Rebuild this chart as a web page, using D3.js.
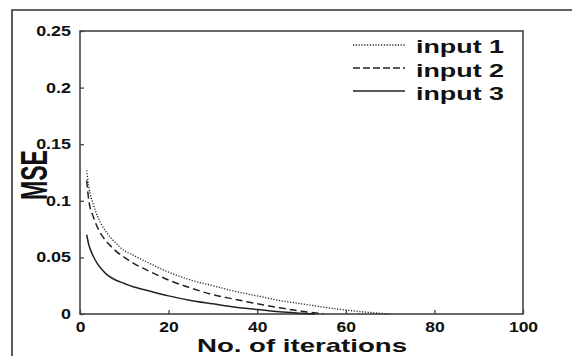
<!DOCTYPE html>
<html>
<head>
<meta charset="utf-8">
<script src="https://cdn.jsdelivr.net/npm/d3@7"></script>
<style>
  body { margin: 0; background: #fff; }
  text { font-family: "Liberation Sans", Arial, sans-serif; font-weight: bold; fill: #111; }
</style>
</head>
<body>
<div class="chart"></div>
<script>
var svgWidth = 572;
var svgHeight = 356;

var margin = {
  top: 31,
  right: 49,
  bottom: 42,
  left: 80
};

var width = svgWidth - margin.left - margin.right;
var height = svgHeight - margin.top - margin.bottom;

// values
var iterations1 = [1.5, 2, 3, 4, 5, 6, 8, 10, 12, 15, 20, 25, 30, 35, 40, 45, 50, 55, 60, 65, 70];
var input1 = [0.127, 0.112, 0.097, 0.086, 0.078, 0.072, 0.063, 0.056, 0.052, 0.046, 0.037, 0.030, 0.025, 0.020, 0.016, 0.012, 0.009, 0.006, 0.0035, 0.0015, 0];

var iterations2 = [1.5, 2, 3, 4, 5, 6, 8, 10, 12, 15, 20, 25, 30, 35, 40, 45, 50, 55];
var input2 = [0.118, 0.100, 0.086, 0.076, 0.069, 0.064, 0.056, 0.050, 0.045, 0.039, 0.030, 0.023, 0.017, 0.013, 0.009, 0.0055, 0.0025, 0];

var iterations3 = [1.5, 2, 3, 4, 5, 6, 8, 10, 12, 15, 20, 25, 30, 35, 40, 45, 50, 53];
var input3 = [0.070, 0.061, 0.051, 0.044, 0.039, 0.035, 0.030, 0.027, 0.024, 0.021, 0.016, 0.012, 0.009, 0.006, 0.004, 0.002, 0.0007, 0];

var xTicks = [0, 20, 40, 60, 80, 100];
var yTicks = [0, 0.05, 0.1, 0.15, 0.2, 0.25];
var yTickLabels = ["0", "0.05", "0.1", "0.15", "0.2", "0.25"];
var seriesNames = ["input 1", "input 2", "input 3"];
var seriesDash = ["1.2,1.6", "7,4", null];

var svg = d3.select(".chart")
  .append("svg")
  .attr("width", svgWidth)
  .attr("height", svgHeight);

// outer frame (top and left edges only)
svg.append("path")
  .attr("d", "M12," + svgHeight + "V10H" + svgWidth)
  .attr("fill", "none")
  .attr("stroke", "#333")
  .attr("stroke-width", 1.6);

var chartGroup = svg.append("g")
  .attr("transform", `translate(${margin.left}, ${margin.top})`);

var xLinearScale = d3.scaleLinear().domain([0, 100]).range([0, width]);
var yLinearScale = d3.scaleLinear().domain([0, 0.25]).range([height, 0]);

// stretch text horizontally like the original
function stretch(sel, k) {
  sel.each(function() {
    var w = this.getComputedTextLength();
    d3.select(this)
      .attr("textLength", w * k)
      .attr("lengthAdjust", "spacingAndGlyphs");
  });
}

var bottomAxis = d3.axisBottom(xLinearScale)
  .tickValues(xTicks)
  .tickSize(-4)
  .tickPadding(8)
  .tickFormat(d => d);

var leftAxis = d3.axisLeft(yLinearScale)
  .tickValues(yTicks)
  .tickSize(-4)
  .tickPadding(9)
  .tickFormat((d, i) => yTickLabels[i]);

var xAxis = chartGroup.append("g")
  .attr("transform", `translate(0, ${height})`)
  .call(bottomAxis);

var yAxis = chartGroup.append("g")
  .call(leftAxis);

[xAxis, yAxis].forEach(function(ax) {
  ax.select(".domain").remove();
  ax.selectAll(".tick line").attr("stroke", "#444").attr("stroke-width", 1.3);
  ax.selectAll(".tick text")
    .attr("font-family", "Liberation Sans, Arial, sans-serif")
    .attr("font-size", 14)
    .attr("font-weight", "bold")
    .attr("fill", "#111");
});
xAxis.selectAll(".tick text").call(stretch, 1.25);
yAxis.selectAll(".tick text").call(stretch, 1.28);

// plot box
chartGroup.append("rect")
  .attr("x", 0)
  .attr("y", 0)
  .attr("width", width)
  .attr("height", height)
  .attr("fill", "none")
  .attr("stroke", "#444")
  .attr("stroke-width", 1.6);

// curves
var lineGen = d3.line()
  .x(d => xLinearScale(d[0]))
  .y(d => yLinearScale(d[1]))
  .curve(d3.curveMonotoneX);

var seriesX = [iterations1, iterations2, iterations3];
var seriesY = [input1, input2, input3];

for (var i = 0; i < 3; i++) {
  var pts = seriesX[i].map((x, j) => [x, seriesY[i][j]]);
  chartGroup.append("path")
    .datum(pts)
    .attr("d", lineGen)
    .attr("fill", "none")
    .attr("stroke", "#222")
    .attr("stroke-width", i == 0 ? 1.3 : 1.5)
    .attr("stroke-dasharray", seriesDash[i]);
}

// legend
var legend = svg.append("g");
var legendLineY = [45, 68, 91];
var legendTextY = [53, 77, 100];
for (var i = 0; i < 3; i++) {
  legend.append("line")
    .attr("x1", 353)
    .attr("x2", 405)
    .attr("y1", legendLineY[i])
    .attr("y2", legendLineY[i])
    .attr("stroke", "#222")
    .attr("stroke-width", i == 0 ? 1.3 : 1.5)
    .attr("stroke-dasharray", i == 1 ? "7,3" : seriesDash[i]);
  legend.append("text")
    .attr("x", 416)
    .attr("y", legendTextY[i])
    .attr("font-size", 19)
    .attr("textLength", 88)
    .attr("lengthAdjust", "spacingAndGlyphs")
    .text(seriesNames[i]);
}

// axis titles
svg.append("text")
  .attr("x", 302)
  .attr("y", 352)
  .attr("text-anchor", "middle")
  .attr("font-size", 19)
  .attr("textLength", 210)
  .attr("lengthAdjust", "spacingAndGlyphs")
  .text("No. of iterations");

svg.append("text")
  .attr("transform", "translate(47, 175) rotate(-90)")
  .attr("text-anchor", "middle")
  .attr("font-size", 37)
  .attr("textLength", 50)
  .attr("lengthAdjust", "spacingAndGlyphs")
  .text("MSE");
</script>
</body>
</html>
